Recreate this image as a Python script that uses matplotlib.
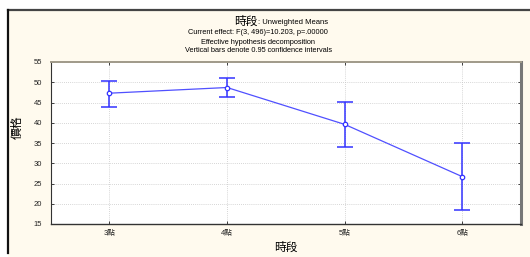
import matplotlib
matplotlib.use("Agg")
import matplotlib.pyplot as plt
from matplotlib.lines import Line2D
from matplotlib.patches import Rectangle

plt.rcParams['font.family'] = ['Liberation Sans', 'Noto Sans CJK TC', 'DejaVu Sans']

# data
periods = ['3點', '4點', '5點', '6點']
means = [47.3, 48.7, 39.6, 26.7]
ci_low = [43.8, 46.4, 34.0, 18.4]
ci_high = [50.4, 51.0, 45.2, 35.0]
yticks = [15, 20, 25, 30, 35, 40, 45, 50, 55]

cream = '#fffaee'
blue = '#3333ff'

fig = plt.figure(figsize=(5.30, 2.57), dpi=100, facecolor='white')
# cream panel with dark top/left border
fig.add_artist(Rectangle((8/530, 0), 1, 1 - 10/257, transform=fig.transFigure,
                         facecolor=cream, edgecolor='none', zorder=-10))
fig.add_artist(Line2D([8/530, 1], [1 - 10/257, 1 - 10/257], transform=fig.transFigure,
                      color='#444444', lw=1.6))
fig.add_artist(Line2D([8/530, 8/530], [4/257, 1 - 10/257], transform=fig.transFigure,
                      color='#111111', lw=1.6))

ax = fig.add_axes([50.7/530, 1 - 224/257, (521 - 50.7)/530, (224 - 62)/257])
ax.set_facecolor('white')

x = list(range(len(periods)))
yerr = [[m - lo for m, lo in zip(means, ci_low)], [hi - m for m, hi in zip(means, ci_high)]]
ax.plot(x, means, color='#5050ff', lw=0.9, zorder=3)
ax.errorbar(x, means, yerr=yerr, fmt='none', ecolor=blue, elinewidth=1.1,
            capsize=6, capthick=1.1, zorder=4)
ax.plot(x, means, 'o', ms=3.2, mfc='white', mec=blue, mew=0.9, zorder=5)

ax.set_xlim(-0.5, len(periods) - 0.5)
ax.set_ylim(15, 55)
ax.set_yticks(yticks)
ax.set_xticks(x)
ax.set_xticklabels(periods, fontsize=5.5)
ax.tick_params(axis='y', labelsize=5.5, pad=6)
ax.tick_params(axis='x', pad=4)
ax.tick_params(direction='in', length=2.5, width=0.6, top=True, right=True,
               colors='#222222')
ax.grid(True, linestyle=(0, (1, 1.5)), color='#c8c8c8', lw=0.6)

for side in ['top', 'left']:
    ax.spines[side].set_color('#333333')
    ax.spines[side].set_linewidth(0.8)
ax.spines['bottom'].set_color('#333333')
ax.spines['bottom'].set_linewidth(1.0)
ax.spines['right'].set_color('#777777')
ax.spines['right'].set_linewidth(2.2)
ax.spines['top'].set_color('#a09a8a')
ax.spines['top'].set_linewidth(1.4)

ax.set_xlabel('時段', fontsize=8.5, labelpad=4)
ax.set_ylabel('價格', fontsize=8.5)
ax.yaxis.set_label_coords(-0.058, 0.6)

fig.text(0.487, 1 - 22/257, '時段', fontsize=8.5, ha='right', va='center')
fig.text(0.487, 1 - 22/257, ': Unweighted Means', fontsize=5.5, ha='left', va='center')
fig.text(0.487, 1 - 32/257, 'Current effect: F(3, 496)=10.203, p=.00000', fontsize=5.3,
         ha='center', va='center')
fig.text(0.487, 1 - 42/257, 'Effective hypothesis decomposition', fontsize=5.3,
         ha='center', va='center')
fig.text(0.487, 1 - 51/257, 'Vertical bars denote 0.95 confidence intervals', fontsize=5.3,
         ha='center', va='center')

fig.savefig('out.png', dpi=100, facecolor=fig.get_facecolor())
